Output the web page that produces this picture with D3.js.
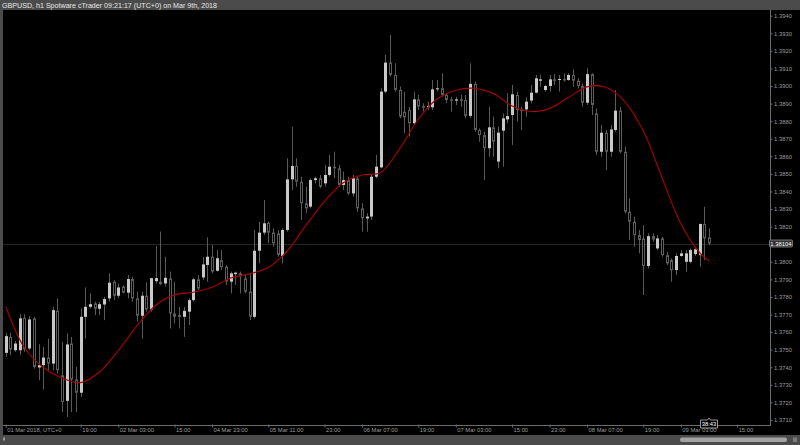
<!DOCTYPE html>
<html><head><meta charset="utf-8">
<script src="https://cdn.jsdelivr.net/npm/d3@7"></script>
<style>html,body{margin:0;padding:0;background:#000;overflow:hidden}svg{display:block}</style>
</head><body><svg id="c" width="800" height="445"></svg>
<script>
const title = "GBPUSD, h1 Spotware cTrader 09:21:17 (UTC+0) on Mar 9th, 2018";
const open = [
1.37482,1.37573,1.37497,1.37497,1.37681,1.37507,1.37678,1.37399,1.37412,1.37455,
1.37421,1.37721,1.37354,1.37209,1.37535,1.37330,1.37255,1.37687,1.37744,1.37763,
1.37733,1.37757,1.37792,1.37887,1.37807,1.37858,1.37824,1.37902,1.37792,1.37693,
1.37807,1.37729,1.37890,1.37887,1.37877,1.37905,1.37706,1.37698,1.37687,1.37716,
1.37782,1.37900,1.37911,1.37982,1.38029,1.37949,1.38010,1.37972,1.37887,1.37930,
1.37934,1.37905,1.37830,1.37687,1.38063,1.38166,1.38222,1.38166,1.38162,1.38033,
1.38181,1.38469,1.38545,1.38456,1.38333,1.38314,1.38465,1.38475,1.38446,1.38494,
1.38541,1.38532,1.38437,1.38465,1.38389,1.38475,1.38304,1.38247,1.38257,1.38484,
1.38537,1.38968,1.39133,1.39063,1.38978,1.38854,1.38864,1.38788,1.38924,1.38886,
1.38879,1.38879,1.38981,1.38987,1.38949,1.38924,1.38917,1.38924,1.38921,1.38830,
1.39012,1.38750,1.38721,1.38646,1.38765,1.38570,1.38746,1.38810,1.38835,1.38949,
1.38867,1.38867,1.38917,1.38962,1.39030,1.38977,1.39000,1.39038,1.39034,1.39040,
1.39034,1.39063,1.39030,1.39000,1.38905,1.39068,1.38844,1.38626,1.38734,1.38626,
1.38750,1.38860,1.38626,1.38285,1.38228,1.38152,1.38133,1.37976,1.38146,1.38076,
1.38133,1.38038,1.38010,1.37953,1.38033,1.38000,1.38000,1.38044,1.38038,1.38215,
1.38139];
const high = [
1.37596,1.37596,1.37550,1.37702,1.37702,1.37691,1.37687,1.37531,1.37516,1.37563,
1.37744,1.37792,1.37545,1.37592,1.37573,1.37402,1.37734,1.37854,1.37820,1.37773,
1.37773,1.37801,1.37934,1.37896,1.37877,1.37867,1.37925,1.37915,1.37830,1.37830,
1.37883,1.37909,1.38090,1.38172,1.38029,1.37944,1.37887,1.37744,1.37744,1.37792,
1.37909,1.37925,1.38029,1.38139,1.38096,1.38067,1.38067,1.37982,1.37944,1.37944,
1.37944,1.37925,1.37934,1.38181,1.38228,1.38352,1.38228,1.38190,1.38181,1.38190,
1.38589,1.38769,1.38589,1.38484,1.38427,1.38475,1.38484,1.38494,1.38551,1.38608,
1.38627,1.38551,1.38513,1.38484,1.38494,1.38484,1.38333,1.38276,1.38503,1.38608,
1.38987,1.39177,1.39291,1.39129,1.38997,1.38968,1.38883,1.38968,1.38949,1.38902,
1.38911,1.39034,1.39034,1.39072,1.38959,1.38939,1.38939,1.38949,1.38949,1.39129,
1.39025,1.38759,1.38740,1.38883,1.38826,1.38769,1.38844,1.38958,1.39006,1.38968,
1.38882,1.38936,1.39006,1.39063,1.39063,1.39006,1.39063,1.39068,1.39063,1.39072,
1.39072,1.39095,1.39044,1.39015,1.39101,1.39072,1.38873,1.38778,1.38750,1.38778,
1.38977,1.38882,1.38655,1.38361,1.38256,1.38181,1.38209,1.38162,1.38162,1.38152,
1.38143,1.38057,1.38019,1.38048,1.38067,1.38067,1.38076,1.38086,1.38218,1.38313,
1.38190];
const low = [
1.37459,1.37469,1.37488,1.37469,1.37488,1.37497,1.37392,1.37326,1.37273,1.37383,
1.37383,1.37364,1.37145,1.37117,1.37145,1.37145,1.37231,1.37563,1.37734,1.37697,
1.37697,1.37668,1.37773,1.37782,1.37792,1.37820,1.37792,1.37773,1.37659,1.37563,
1.37716,1.37716,1.37877,1.37867,1.37858,1.37621,1.37649,1.37621,1.37573,1.37640,
1.37773,1.37839,1.37896,1.37887,1.37934,1.37944,1.37953,1.37867,1.37820,1.37867,
1.37820,1.37820,1.37668,1.37678,1.37991,1.38152,1.38105,1.38086,1.38029,1.37991,
1.38171,1.38408,1.38427,1.38238,1.38276,1.38304,1.38446,1.38418,1.38427,1.38484,
1.38475,1.38427,1.38408,1.38380,1.38370,1.38285,1.38171,1.38171,1.38238,1.38475,
1.38532,1.38959,1.39053,1.38968,1.38816,1.38731,1.38712,1.38778,1.38864,1.38854,
1.38864,1.38864,1.38968,1.38939,1.38902,1.38854,1.38892,1.38883,1.38816,1.38816,
1.38740,1.38683,1.38465,1.38598,1.38598,1.38532,1.38541,1.38788,1.38664,1.38797,
1.38750,1.38826,1.38901,1.38958,1.38996,1.38968,1.38968,1.39006,1.38968,1.39025,
1.39030,1.38996,1.38987,1.38882,1.38892,1.38835,1.38607,1.38598,1.38522,1.38598,
1.38740,1.38617,1.38275,1.38124,1.38086,1.38048,1.37811,1.37962,1.38114,1.38067,
1.38029,1.37981,1.37887,1.37924,1.38029,1.37943,1.37991,1.38033,1.37972,1.38010,
1.38095];
const close = [
1.37577,1.37501,1.37535,1.37678,1.37501,1.37672,1.37402,1.37412,1.37455,1.37421,
1.37725,1.37383,1.37202,1.37530,1.37330,1.37255,1.37687,1.37744,1.37759,1.37733,
1.37759,1.37788,1.37881,1.37807,1.37854,1.37824,1.37902,1.37792,1.37693,1.37807,
1.37729,1.37907,1.37907,1.37873,1.37909,1.37706,1.37687,1.37687,1.37721,1.37782,
1.37900,1.37848,1.37985,1.38029,1.37944,1.38020,1.37969,1.37887,1.37934,1.37938,
1.37919,1.37830,1.37687,1.38063,1.38166,1.38219,1.38166,1.38105,1.38039,1.38181,
1.38469,1.38545,1.38456,1.38333,1.38304,1.38465,1.38475,1.38427,1.38494,1.38541,
1.38532,1.38437,1.38465,1.38389,1.38475,1.38304,1.38247,1.38257,1.38484,1.38541,
1.38968,1.39133,1.39063,1.38978,1.38826,1.38822,1.38788,1.38924,1.38883,1.38883,
1.38886,1.38981,1.38987,1.38949,1.38921,1.38917,1.38924,1.38917,1.38830,1.39012,
1.38750,1.38721,1.38646,1.38765,1.38683,1.38735,1.38816,1.38829,1.38953,1.38863,
1.38860,1.38911,1.38962,1.39044,1.39038,1.39000,1.39038,1.39034,1.39040,1.39034,
1.39063,1.39030,1.39000,1.38905,1.39068,1.38892,1.38626,1.38734,1.38626,1.38753,
1.38860,1.38626,1.38285,1.38228,1.38152,1.38124,1.37976,1.38146,1.38127,1.38133,
1.38038,1.37991,1.37953,1.38033,1.38048,1.38048,1.38067,1.38071,1.38215,1.38133,
1.38104];
const maIndex = [0,4,8,12,16,20,24,28,32,36,40,44,48,52,56,60,64,68,72,76,80,84,88,92,96,100,104,108,112,116,120,124,128,132,136,140,144,148,150];
const maValue = [1.37746,1.37511,1.37399,1.37339,1.37313,1.37373,1.37494,1.37636,1.37753,1.37812,1.37827,1.37855,1.37908,1.37931,1.37968,1.38060,1.38206,1.38344,1.38450,1.38494,1.38508,1.38642,1.38811,1.38926,1.38976,1.38987,1.38958,1.38886,1.38855,1.38873,1.38934,1.38995,1.38993,1.38913,1.38744,1.38478,1.38216,1.38052,1.38005];
const priceTicks = [1.3710,1.3720,1.3730,1.3740,1.3750,1.3760,1.3770,1.3780,1.3790,1.3800,1.3820,1.3830,1.3840,1.3850,1.3860,1.3870,1.3880,1.3890,1.3900,1.3910,1.3920,1.3930,1.3940];
const timeTickIndex = [0,16,24,36,44,56,68,76,88,96,108,116,124,136,144,156];
const timeTickLabels = ["01 Mar 2018, UTC+0","19:00","02 Mar 03:00","15:00","04 Mar 23:00","05 Mar 11:00","23:00","06 Mar 07:00","19:00","07 Mar 03:00","15:00","23:00","08 Mar 07:00","19:00","09 Mar 03:00","15:00"];
const currentPrice = 1.38104;
const countdown = "38:43";

const W = 800, H = 445;
const svg = d3.select("#c");
const FONT = "'Liberation Sans', Arial, sans-serif";
const frame = "#4b4b4b";

const x = d3.scaleLinear().domain([0, 150]).range([5.7, 709]);
const y = d3.scaleLinear().domain([1.3710, 1.3940]).range([420, 15.7]);

svg.append("rect").attr("width", W).attr("height", H).attr("fill", "#000");
svg.append("rect").attr("x", 0).attr("y", 0).attr("width", W).attr("height", 10).attr("fill", frame);
svg.append("rect").attr("x", 0).attr("y", 0).attr("width", 3).attr("height", H).attr("fill", frame);
svg.append("rect").attr("x", 0).attr("y", 435).attr("width", W).attr("height", 10).attr("fill", frame);
svg.append("rect").attr("x", 680).attr("y", 437.5).attr("width", 107).attr("height", 4.5).attr("rx", 2).attr("fill", "#a3a3a3");
svg.append("rect").attr("x", 793).attr("y", 437.5).attr("width", 4).attr("height", 4.5).attr("fill", "#7a7a7a");
svg.append("rect").attr("x", 3).attr("y", 437.5).attr("width", 2).attr("height", 3).attr("fill", "#9a9a9a");

svg.append("text").attr("x", 2).attr("y", 7.6).attr("fill", "#e6e6e6")
  .attr("font-family", FONT).attr("font-size", 6.3)
  .attr("textLength", 215).attr("lengthAdjust", "spacingAndGlyphs").text(title);

svg.append("clipPath").attr("id", "plot").append("rect")
  .attr("x", 3).attr("y", 10).attr("width", 767).attr("height", 415);
const plot = svg.append("g").attr("clip-path", "url(#plot)");

plot.append("line").attr("x1", 3).attr("x2", 770)
  .attr("y1", Math.round(y(currentPrice)) + 0.5).attr("y2", Math.round(y(currentPrice)) + 0.5)
  .attr("stroke", "#262626").attr("stroke-width", 1);

const idx = d3.range(open.length);
const wickCol = "#5a5a5a";
plot.append("g").selectAll("line").data(idx).join("line")
  .attr("x1", i => Math.round(x(i)) + 0.5).attr("x2", i => Math.round(x(i)) + 0.5)
  .attr("y1", i => y(high[i])).attr("y2", i => y(low[i]))
  .attr("stroke", wickCol).attr("stroke-width", 1);

plot.append("g").selectAll("rect").data(idx).join("rect")
  .each(function(i) {
    const bull = close[i] >= open[i];
    const top = y(Math.max(open[i], close[i]));
    const bot = y(Math.min(open[i], close[i]));
    const cx = Math.round(x(i));
    const s = d3.select(this);
    if (bull) {
      s.attr("x", cx - 1).attr("width", 3).attr("y", top).attr("height", Math.max(1, bot - top))
        .attr("fill", "#c9c9c9");
    } else {
      s.attr("x", cx - 0.5).attr("width", 2).attr("y", top + 0.5).attr("height", Math.max(0.5, bot - top - 1))
        .attr("fill", "#000").attr("stroke", "#5e5e5e").attr("stroke-width", 1);
    }
  });

const maLine = d3.line().x((d, k) => x(maIndex[k])).y(d => y(d)).curve(d3.curveCatmullRom.alpha(0.5));
plot.append("path").attr("d", maLine(maValue)).attr("fill", "none")
  .attr("stroke", "#a60000").attr("stroke-width", 1.15);

svg.append("line").attr("x1", 770.5).attr("x2", 770.5).attr("y1", 10).attr("y2", 425.5).attr("stroke", "#6c6c6c");
svg.append("line").attr("x1", 3).attr("x2", 771).attr("y1", 425.5).attr("y2", 425.5).attr("stroke", "#6c6c6c");

const yAxis = d3.axisRight(y).tickValues(priceTicks).tickFormat(d3.format(".4f")).tickSize(2).tickSizeOuter(0).tickPadding(1.5);
const gy = svg.append("g").attr("transform", "translate(770.5,0)").call(yAxis);
gy.select(".domain").remove();
gy.selectAll("line").attr("stroke", "#6c6c6c");
gy.selectAll("text").attr("fill", "#9c9c9c").attr("font-family", FONT).attr("font-size", 5.9);

const xAxis = d3.axisBottom(x).tickValues(timeTickIndex).tickFormat((d, k) => timeTickLabels[k]).tickSize(3).tickSizeOuter(0).tickPadding(1);
const gx = svg.append("g").attr("transform", "translate(0,424.5)").call(xAxis);
gx.select(".domain").remove();
gx.selectAll("line").attr("stroke", "#6c6c6c");
gx.selectAll("text").attr("fill", "#9c9c9c").attr("font-family", FONT).attr("font-size", 5.8)
  .attr("text-anchor", "start").attr("dx", 1).attr("dy", "0.55em");

const py = y(currentPrice);
svg.append("rect").attr("x", 769.5).attr("y", py - 3.5).attr("width", 23).attr("height", 7)
  .attr("fill", "#333").attr("stroke", "#8a8a8a").attr("stroke-width", 0.8).attr("rx", 1);
svg.append("text").attr("x", 781).attr("y", py + 2).attr("text-anchor", "middle")
  .attr("fill", "#fff").attr("font-family", FONT).attr("font-size", 5.9).text(currentPrice.toFixed(5));

const cxb = x(150);
svg.append("path").attr("d", `M${cxb-8.5},420 H${cxb-1.5} L${cxb},418 L${cxb+1.5},420 H${cxb+8.5} V428 H${cxb-8.5} Z`)
  .attr("fill", "#000").attr("stroke", "#bdbdbd").attr("stroke-width", 0.8);
svg.append("text").attr("x", cxb).attr("y", 426.3).attr("text-anchor", "middle")
  .attr("fill", "#fff").attr("font-family", FONT).attr("font-size", 5.8).text(countdown);
</script></body></html>
